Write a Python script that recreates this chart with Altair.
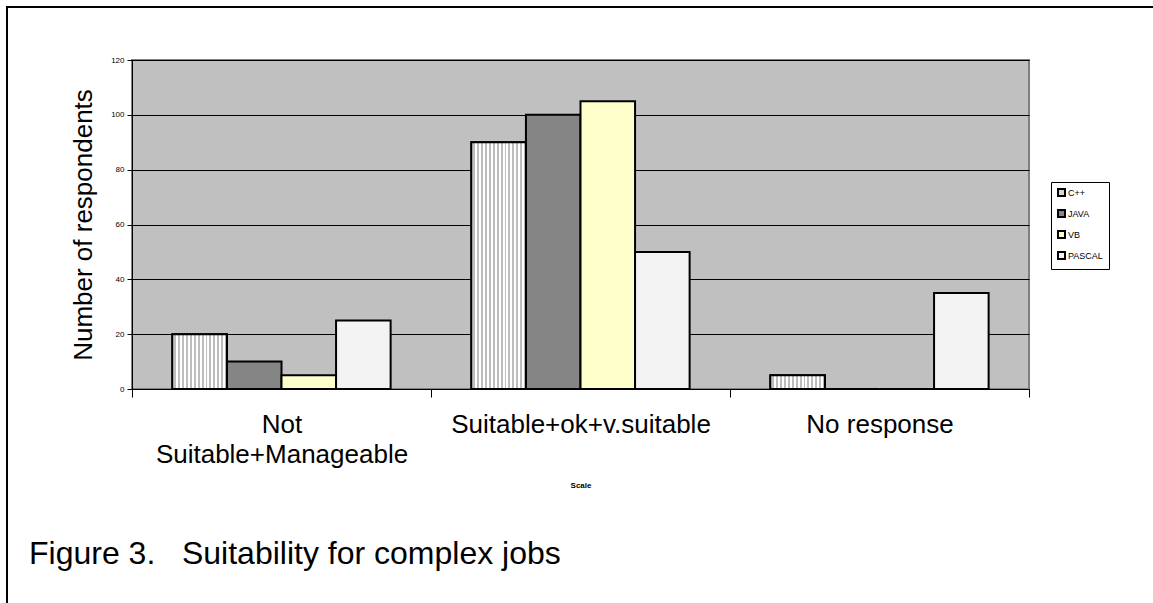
import altair as alt
import pandas as pd

categories = ["Not Suitable+Manageable", "Suitable+ok+v.suitable", "No response"]
languages = ["C++", "JAVA", "VB", "PASCAL"]
cpp = [20, 90, 5]
java = [10, 100, 0]
vb = [5, 105, 0]
pascal = [25, 50, 35]
caption = ["Figure 3.\u00a0\u00a0 Suitability for complex jobs"]

series = {"C++": cpp, "JAVA": java, "VB": vb, "PASCAL": pascal}
rows = []
for lang in languages:
    for cat, v in zip(categories, series[lang]):
        rows.append({"Scale": cat, "Language": lang, "Respondents": v})
df = pd.DataFrame(rows)

FONT = "Liberation Sans"
fill_colors = ["#d6d6d6", "#858585", "#ffffcc", "#f3f3f3"]

x_enc = alt.X(
    "Scale:N",
    sort=categories,
    scale=alt.Scale(domain=categories, paddingInner=0, paddingOuter=0),
    axis=alt.Axis(
        title="Scale",
        titleFontSize=8,
        titleFont=FONT,
        titleFontWeight="bold",
        titleColor="black",
        titlePadding=14,
        labelAngle=0,
        labelFontSize=26,
        labelFont=FONT,
        labelColor="black",
        labelPadding=14,
        labelLineHeight=30,
        labelLimit=400,
        labelExpr="datum.label == 'Not Suitable+Manageable' ? ['Not', 'Suitable+Manageable'] : datum.label",
        tickBand="extent",
        tickSize=8,
        tickColor="black",
        domainColor="black",
        domainWidth=1,
        grid=False,
    ),
)
xo_enc = alt.XOffset(
    "Language:N",
    sort=languages,
    scale=alt.Scale(domain=languages, paddingInner=0, paddingOuter=0.74),
)
y_enc = alt.Y(
    "Respondents:Q",
    scale=alt.Scale(domain=[0, 120], nice=False),
    axis=alt.Axis(
        title="Number of respondents",
        titleFontSize=26,
        titleFont=FONT,
        titleFontWeight="normal",
        titleColor="black",
        titlePadding=14,
        values=[0, 20, 40, 60, 80, 100, 120],
        labelFontSize=8,
        labelFont=FONT,
        labelColor="black",
        labelPadding=3,
        tickSize=5,
        tickColor="black",
        domainColor="black",
        grid=True,
        gridColor="black",
        gridWidth=1,
    ),
)

base = alt.Chart(df)

bars = base.mark_bar(stroke="black", strokeWidth=2).encode(
    x=x_enc,
    xOffset=xo_enc,
    y=y_enc,
    fill=alt.Fill(
        "Language:N",
        sort=languages,
        scale=alt.Scale(domain=languages, range=fill_colors),
        legend=alt.Legend(
            title=None,
            orient="none",
            legendX=919,
            legendY=122,
            strokeColor="black",
            fillColor="white",
            padding=6,
            symbolType="square",
            symbolSize=49,
            symbolStrokeColor="black",
            symbolStrokeWidth=2,
            labelFontSize=9,
            labelFont=FONT,
            labelColor="black",
            labelOffset=2,
            rowPadding=6,
        ),
    ),
)

stops = []
n = 14
for i in range(n):
    a = i / n
    b = (i + 0.5) / n
    c = (i + 1) / n
    stops += [
        alt.GradientStop(offset=a, color="#ffffff"),
        alt.GradientStop(offset=b, color="#ffffff"),
        alt.GradientStop(offset=b, color="#bdbdbd"),
        alt.GradientStop(offset=c, color="#bdbdbd"),
    ]

cpp_bars = base.transform_filter(alt.datum.Language == "C++").mark_bar(
    stroke="black",
    strokeWidth=2,
    fill=alt.LinearGradient(gradient="linear", stops=stops, x1=0, x2=1, y1=0, y2=0),
).encode(x=x_enc, xOffset=xo_enc, y=y_enc)

frame = alt.Chart(pd.DataFrame({"a": [0]})).mark_rect(
    fill="transparent", stroke="black", strokeWidth=2
).encode(
    x=alt.value(-125), x2=alt.value(1200), y=alt.value(-53), y2=alt.value(800)
)

caption_text = alt.Chart(pd.DataFrame({"t": caption})).mark_text(
    align="left", baseline="alphabetic", fontSize=32, font=FONT, color="black"
).encode(text="t:N", x=alt.value(-103), y=alt.value(504))

chart = alt.layer(bars, cpp_bars, frame, caption_text).properties(
    width=897,
    height=329,
    autosize="none",
    padding={"left": 132, "top": 60, "right": 124, "bottom": 214},
).configure(
    font=FONT, background="white"
).configure_view(
    fill="#c0c0c0", stroke="#808080", strokeWidth=2
)

chart.save("out.html", embed_options={"renderer": "svg", "actions": False})
